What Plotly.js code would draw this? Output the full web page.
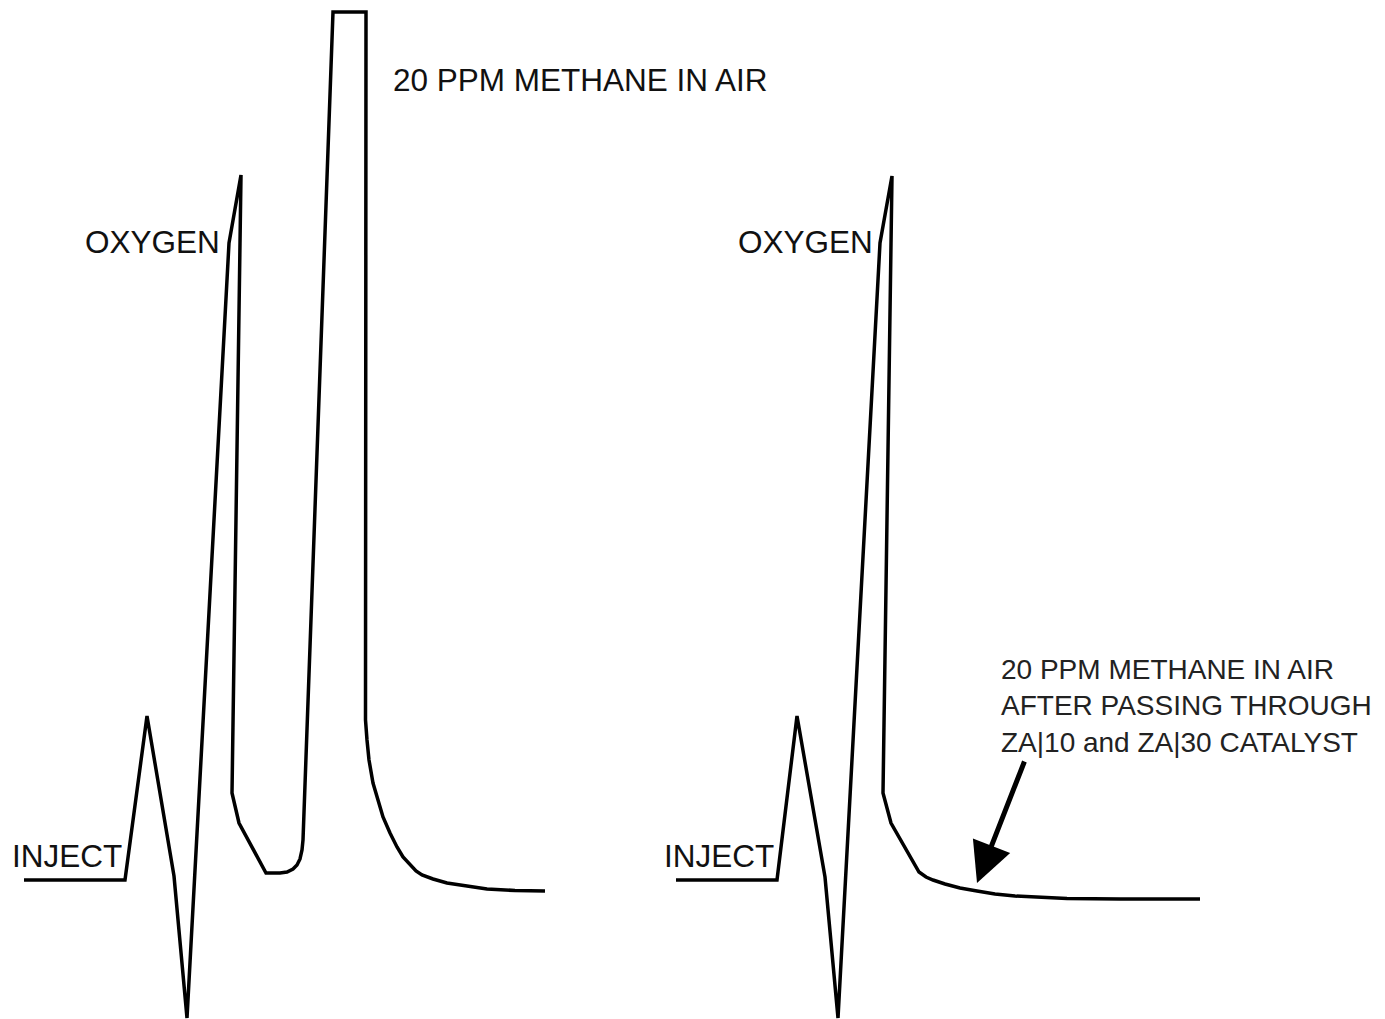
<!DOCTYPE html>
<html>
<head>
<meta charset="utf-8">
<script src="https://cdn.plot.ly/plotly-3.0.1.min.js"></script>
<style>html,body{margin:0;padding:0;background:#fff;}#chart{width:1385px;height:1019px;}</style>
</head>
<body>
<div id="chart"></div>
<script>
// Chromatogram 1: 20 PPM methane in air (time position, detector level; level axis runs downward)
const time1 = [24,125,147,174,187,229,241,232,239,266,280,287,293,297,300,302,303,333,366,366,365.5,367,369,373,378,383,390,397,403,410,416,422,433,447,465,487,515,545];
const level1 = [880,880,716,876,1018,243,175,793,823,873,873,872,869,865,859,850,840,12,12,700,720,740,760,783,800,817,833,847,857,865,871,875,879,883,886,889,890.5,891];

// Chromatogram 2: after passing through ZA|10 and ZA|30 catalyst
const time2 = [676,777,797,825,838,880,892,883,891,919,926,933,945,960,977,995,1015,1040,1067,1120,1200];
const level2 = [880,880,716,877,1018,243,176,793,823,872,877,880,884,888,891,894,896,897.5,898.5,899,899];

// Labels
const labelText = ["20 PPM METHANE IN AIR","OXYGEN","INJECT","OXYGEN","INJECT"];
const labelX = [391,83,10,736,662];
const labelY = [80,242,856,242,856];
const noteText = "20 PPM METHANE IN AIR<br>AFTER PASSING THROUGH<br>ZA|10 and ZA|30 CATALYST";

const lineStyle = {color:'#000', width:3.5};
const traces = [
  {x:time1, y:level1, mode:'lines', line:lineStyle, hoverinfo:'skip'},
  {x:time2, y:level2, mode:'lines', line:lineStyle, hoverinfo:'skip'}
];

const font = {family:'"Liberation Sans", Arial, sans-serif', size:31.5, color:'#111'};
const annotations = labelText.map((t,i)=>({
  x:labelX[i], y:labelY[i], xref:'x', yref:'y', text:t, showarrow:false,
  xanchor:'left', yanchor:'middle', font:font
}));
annotations.push({
  x:999, y:706, xref:'x', yref:'y', text:noteText, showarrow:false,
  xanchor:'left', yanchor:'middle', align:'left',
  font:{family:font.family, size:28, color:'#222'}
});
annotations.push({
  x:977, y:883, xref:'x', yref:'y', ax:1025, ay:760, axref:'x', ayref:'y',
  text:'', showarrow:true, arrowhead:2, arrowsize:1.6, arrowwidth:5, arrowcolor:'#000'
});

const layout = {
  width:1385, height:1019,
  margin:{l:0,r:0,t:0,b:0},
  paper_bgcolor:'#fff', plot_bgcolor:'#fff',
  showlegend:false,
  xaxis:{range:[0,1385], visible:false, fixedrange:true},
  yaxis:{range:[1019,0], visible:false, fixedrange:true},
  annotations:annotations
};
Plotly.newPlot('chart', traces, layout, {staticPlot:true});
</script>
</body>
</html>
